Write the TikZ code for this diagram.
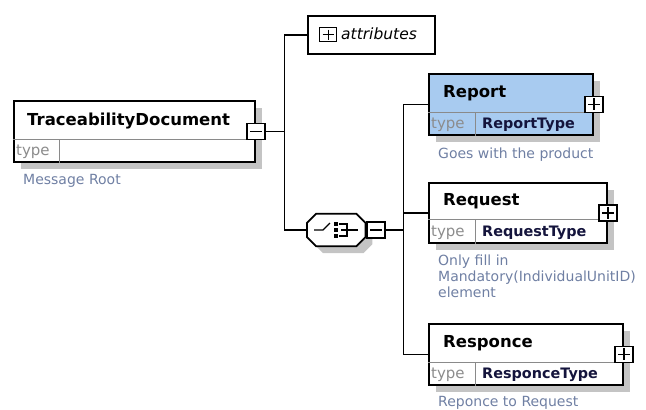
\documentclass[tikz,border=0pt]{standalone}
\usepackage{fontspec}
\setmainfont{DejaVu Sans}
\usetikzlibrary{calc,shadows}
\definecolor{shadowgray}{HTML}{C4C4C4}
\definecolor{descc}{HTML}{6F7FA3}
\definecolor{typegray}{HTML}{8C8C8C}
\definecolor{typename}{HTML}{14143C}
\definecolor{reportfill}{HTML}{A8CBF0}
\definecolor{divgray}{HTML}{8A8A8A}
\tikzset{
  elbox/.style={draw=black, line width=1.8pt, fill=white, anchor=north west, inner sep=0pt,
    general shadow={fill=shadowgray, shadow xshift=7pt, shadow yshift=-7pt}},
  plainbox/.style={draw=black, line width=1.8pt, fill=white, anchor=north west, inner sep=0pt},
  pmbox/.style={draw=black, line width=1.6pt, fill=white, minimum width=18pt, minimum height=16pt, inner sep=0pt},
  pmsign/.style={line width=1.6pt},
  conn/.style={draw=black, line width=1.4pt},
  divider/.style={draw=divgray, line width=1pt},
  titletxt/.style={anchor=base west, inner sep=0pt, font=\bfseries\fontsize{16.5}{18}\selectfont},
  typetxt/.style={anchor=base west, inner sep=0pt, text=typegray, font=\fontsize{15}{17}\selectfont},
  tnametxt/.style={anchor=base west, inner sep=0pt, text=typename, font=\bfseries\fontsize{14.4}{17}\selectfont},
  desctxt/.style={anchor=base west, inner sep=0pt, text=descc, font=\fontsize{14}{16}\selectfont, align=left},
}
\begin{document}
\begin{tikzpicture}[x=1pt,y=-1pt]
\useasboundingbox (0,0) rectangle (646,410);

% ---- root element ----
\node[elbox, minimum width=241pt, minimum height=61pt] (td) at (13,100) {};
\draw[divider] ($(td.south west)+(0,-23)$) -- ($(td.south east)+(0,-23)$);
\draw[divider] ($(td.south west)+(46,0)$) -- ($(td.south west)+(46,-23)$);
\node[titletxt] (tdtitle) at (27,125) {TraceabilityDocument};
\node[typetxt] (tdtype) at (16,155) {type};
\node[desctxt] (tddesc) at (23,184) {Message Root};
\node[pmbox] (tdm) at (td.east) {};
\draw[pmsign] ($(tdm.center)+(-6,0)$) -- ($(tdm.center)+(6,0)$);

% ---- attributes ----
\node[plainbox, minimum width=127pt, minimum height=38pt] (attr) at (307,15) {};
\node[draw=black, line width=1.2pt, minimum width=17pt, minimum height=14pt, inner sep=0pt, anchor=north west] (attrp) at (319,27) {};
\draw[line width=1.2pt] ($(attrp.center)+(-5.5,0)$) -- ($(attrp.center)+(5.5,0)$)
  ($(attrp.center)+(0,-5)$) -- ($(attrp.center)+(0,5)$);
\node[anchor=base west, inner sep=0pt, font=\itshape\fontsize{15.5}{17}\selectfont] (attrtxt) at (341,39) {attributes};

% ---- sequence compositor ----
\node[minimum width=58pt, minimum height=32pt, inner sep=0pt, anchor=west] (seq) at (307,230) {};
\fill[shadowgray] ($(seq.north west)+(16,7)$) -- ($(seq.north east)+(-2,7)$) -- ($(seq.north east)+(7,16)$)
  -- ($(seq.south east)+(7,-2)$) -- ($(seq.south east)+(-2,7)$) -- ($(seq.south west)+(16,7)$)
  -- ($(seq.south west)+(7,-2)$) -- ($(seq.north west)+(7,16)$) -- cycle;
\draw[line width=1.8pt, fill=white] ($(seq.north west)+(9,0)$) -- ($(seq.north east)+(-9,0)$) -- ($(seq.north east)+(0,9)$)
  -- ($(seq.south east)+(0,-9)$) -- ($(seq.south east)+(-9,0)$) -- ($(seq.south west)+(9,0)$)
  -- ($(seq.south west)+(0,-9)$) -- ($(seq.north west)+(0,9)$) -- cycle;
\draw[line width=1.4pt] (314,230) -- (323,230) -- (330,223);
\fill (334,222) rectangle (338,225.5);
\fill (334,228) rectangle (338,231.5);
\fill (334,234) rectangle (338,237.5);
\draw[line width=1.4pt] (339,224) -- (347,224) -- (347,236) -- (339,236);
\draw[line width=1.4pt] (341,230) -- (358,230);
\node[pmbox, anchor=west] (seqm) at (366,230) {};
\draw[pmsign] ($(seqm.center)+(-6,0)$) -- ($(seqm.center)+(6,0)$);

% ---- Report ----
\node[elbox, fill=reportfill, minimum width=164pt, minimum height=61pt] (rep) at (428,73) {};
\draw[divider] ($(rep.south west)+(0,-23)$) -- ($(rep.south east)+(0,-23)$);
\draw[divider] ($(rep.south west)+(47,0)$) -- ($(rep.south west)+(47,-23)$);
\node[titletxt] (reptitle) at (443,97) {Report};
\node[typetxt] (reptype) at (431,128) {type};
\node[tnametxt] (repname) at (482,128) {ReportType};
\node[desctxt] (repdesc) at (438,158) {Goes with the product};
\node[pmbox] (repp) at (rep.east) {};
\draw[pmsign] ($(repp.center)+(-6,0)$) -- ($(repp.center)+(6,0)$)
  ($(repp.center)+(0,-6)$) -- ($(repp.center)+(0,6)$);

% ---- Request ----
\node[elbox, minimum width=178pt, minimum height=60pt] (req) at (428,182) {};
\draw[divider] ($(req.south west)+(0,-24)$) -- ($(req.south east)+(0,-24)$);
\draw[divider] ($(req.south west)+(47,0)$) -- ($(req.south west)+(47,-24)$);
\node[titletxt] (reqtitle) at (443,205) {Request};
\node[typetxt] (reqtype) at (431,236) {type};
\node[tnametxt] (reqname) at (482,236) {RequestType};
\node[desctxt] (reqdesc1) at (438,265) {Only fill in};
\node[desctxt] (reqdesc2) at (438,281) {Mandatory(IndividualUnitID)};
\node[desctxt] (reqdesc3) at (438,297) {element};
\node[pmbox] (reqp) at (req.east) {};
\draw[pmsign] ($(reqp.center)+(-6,0)$) -- ($(reqp.center)+(6,0)$)
  ($(reqp.center)+(0,-6)$) -- ($(reqp.center)+(0,6)$);

% ---- Responce ----
\node[elbox, minimum width=194pt, minimum height=61pt] (res) at (428,323) {};
\draw[divider] ($(res.south west)+(0,-23)$) -- ($(res.south east)+(0,-23)$);
\draw[divider] ($(res.south west)+(47,0)$) -- ($(res.south west)+(47,-23)$);
\node[titletxt] (restitle) at (443,347) {Responce};
\node[typetxt] (restype) at (431,378) {type};
\node[tnametxt] (resname) at (482,378) {ResponceType};
\node[desctxt] (resdesc) at (438,406) {Reponce to Request};
\node[pmbox] (resp) at (res.east) {};
\draw[pmsign] ($(resp.center)+(-6,0)$) -- ($(resp.center)+(6,0)$)
  ($(resp.center)+(0,-6)$) -- ($(resp.center)+(0,6)$);

% ---- connectors ----
\coordinate (j1) at ($(tdm.east)+(19,0)$);
\coordinate (j2) at ($(seqm.east)+(18,0)$);
\draw[conn] (tdm.east) -- (j1);
\draw[conn] (j1) |- (attr.west);
\draw[conn] (j1) |- (seq.west);
\draw[conn] (seqm.east) -- (j2);
\draw[conn] (j2) |- (rep.west);
\draw[conn] (j2) |- (req.west);
\draw[conn] (j2) |- (res.west);
\end{tikzpicture}
\end{document}
